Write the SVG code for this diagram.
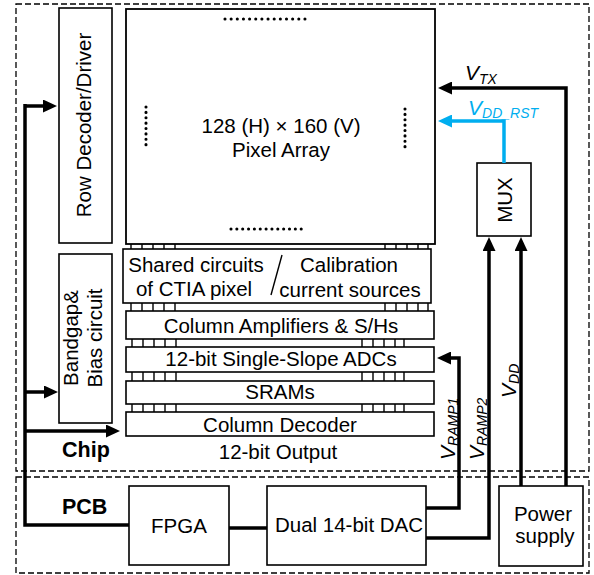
<svg xmlns="http://www.w3.org/2000/svg" width="594" height="575" viewBox="0 0 594 575">
<style>
.bx{fill:#fff;stroke:#000;stroke-width:1.6}
.ds{fill:none;stroke:#000;stroke-width:1.3;stroke-dasharray:6 3}
.t{font-family:"Liberation Sans",Arial,sans-serif;font-size:20.5px;fill:#000}
.c{text-anchor:middle}
.b{font-weight:bold;font-size:21.5px}
.vl{font-family:"Liberation Sans",Arial,sans-serif;font-size:21px;font-style:italic;fill:#000}
.w{fill:none;stroke:#000;stroke-width:3.5}
.wb{fill:none;stroke:#00AEEF;stroke-width:3.5}
.tk{fill:none;stroke:#000;stroke-width:1.4}
.dot{fill:none;stroke:#000;stroke-width:3.1;stroke-linecap:round}
</style>
<defs>
<marker id="ah" markerUnits="userSpaceOnUse" markerWidth="14" markerHeight="13" viewBox="0 0 14 13" refX="4" refY="6.5" orient="auto"><path d="M0,0 L14,6.5 L0,13 z" fill="#000"/></marker>
<marker id="ahb" markerUnits="userSpaceOnUse" markerWidth="14" markerHeight="13" viewBox="0 0 14 13" refX="4" refY="6.5" orient="auto"><path d="M0,0 L14,6.5 L0,13 z" fill="#00AEEF"/></marker>
</defs>
<rect width="594" height="575" fill="#fff"/>
<g id="chip-boundary"><rect class="ds" x="16" y="4" width="573" height="467"/></g>
<g id="pcb-boundary"><rect class="ds" x="16" y="477" width="573" height="96"/></g>

<g id="row-decoder"><rect class="bx" x="59" y="8" width="53" height="235"/>
<text class="t c" transform="translate(91,125) rotate(-90)">Row Decoder/Driver</text></g>

<g id="pixel-array"><rect class="bx" x="126" y="9" width="309" height="235" style="stroke-width:1.8"/>
<line class="dot" x1="225" y1="19" x2="305" y2="19" stroke-dasharray="0 6.15"/>
<line class="dot" x1="231" y1="229" x2="307" y2="229" stroke-dasharray="0 5.85"/>
<line class="dot" x1="146" y1="107" x2="146" y2="150" stroke-dasharray="0 5.375"/>
<line class="dot" x1="405" y1="109" x2="405" y2="152" stroke-dasharray="0 5.375"/>
<text class="t c" x="281" y="133">128 (H) × 160 (V)</text>
<text class="t c" x="281" y="157">Pixel Array</text></g>

<g id="bandgap"><rect class="bx" x="59" y="254" width="53" height="169"/>
<text class="t c" transform="translate(78,338) rotate(-90)">Bandgap&amp;</text>
<text class="t c" transform="translate(102,338) rotate(-90)">Bias circuit</text></g>

<g id="shared-circuits"><rect class="bx" x="123" y="249" width="308" height="54"/>
<line x1="282" y1="255" x2="271" y2="295" stroke="#000" stroke-width="1.4"/>
<text class="t c" x="196" y="272">Shared circuits</text>
<text class="t c" x="194" y="296">of CTIA pixel</text>
<text class="t c" x="349" y="272">Calibration</text>
<text class="t c" x="350" y="297">current sources</text></g>

<g id="column-amplifiers"><rect class="bx" x="126" y="311" width="308" height="28"/>
<text class="t c" x="281" y="333">Column Amplifiers &amp; S/Hs</text></g>

<g id="adcs"><rect class="bx" x="126" y="347" width="308" height="25"/>
<text class="t c" x="281" y="366">12-bit Single-Slope ADCs</text></g>

<g id="srams"><rect class="bx" x="126" y="381" width="308" height="23"/>
<text class="t c" x="280" y="399">SRAMs</text></g>

<g id="column-decoder"><rect class="bx" x="126" y="412" width="308" height="24"/>
<text class="t c" x="280" y="432">Column Decoder</text></g>

<g id="combs">
<path class="tk" d="M131,244V249M142,244V249M153,244V249M164,244V249M175,244V249M385,244V249M396,244V249M407,244V249M418,244V249M428,244V249"/>
<path class="tk" d="M131,303V311M142,303V311M153,303V311M164,303V311M175,303V311M385,303V311M396,303V311M407,303V311M418,303V311M428,303V311"/>
<path class="tk" d="M132,339V347M143,339V347M154,339V347M165,339V347M176,339V347M362,339V347M373,339V347M384,339V347M395,339V347M404,339V347"/>
<path class="tk" d="M132,372V381M143,372V381M154,372V381M165,372V381M176,372V381M362,372V381M373,372V381M384,372V381M395,372V381M404,372V381"/>
<path class="tk" d="M132,404V412M143,404V412M154,404V412M165,404V412M176,404V412M362,404V412M373,404V412M384,404V412M395,404V412M404,404V412"/>
</g>

<g id="mux"><rect class="bx" x="477" y="163" width="54" height="73"/>
<text class="t c" transform="translate(512,200) rotate(-90)">MUX</text></g>

<g id="fpga"><rect class="bx" x="129" y="486" width="100" height="79"/>
<text class="t c" x="179" y="533">FPGA</text></g>

<g id="dac"><rect class="bx" x="267" y="486" width="159" height="79"/>
<text class="t c" x="349" y="532">Dual 14-bit DAC</text></g>

<g id="power-supply"><rect class="bx" x="499" y="486" width="84" height="80"/>
<text class="t c" x="543" y="521">Power</text>
<text class="t c" x="545" y="543">supply</text></g>

<g id="connectors">
<path class="w" d="M25,104V525H129"/>
<path class="w" d="M25,106H47" marker-end="url(#ah)"/>
<path class="w" d="M25,392H48" marker-end="url(#ah)"/>
<path class="w" d="M25,431H110" marker-end="url(#ah)"/>
<path class="w" d="M229,528H267"/>
<path class="w" d="M426,508H459V358H447" marker-end="url(#ah)"/>
<path class="w" d="M426,538H489V247" marker-end="url(#ah)"/>
<path class="w" d="M521,486V247" marker-end="url(#ah)"/>
<path class="w" d="M566,486V88H448" marker-end="url(#ah)"/>
<path class="wb" d="M504,163V121H448" marker-end="url(#ahb)"/>
</g>

<g id="labels">
<text class="t b" x="62" y="457">Chip</text>
<text class="t b" x="62" y="514">PCB</text>
<text class="t c" x="278" y="459">12-bit Output</text>
<text class="vl" x="465" y="80">V<tspan dy="4" font-size="14">TX</tspan></text>
<text class="vl" x="468" y="115" style="fill:#00AEEF">V<tspan dy="3" font-size="14">DD_RST</tspan></text>
<text class="vl" transform="translate(455,460) rotate(-90)">V<tspan dy="3" font-size="14">RAMP1</tspan></text>
<text class="vl" transform="translate(484,460) rotate(-90)">V<tspan dy="3" font-size="14">RAMP2</tspan></text>
<text class="vl" transform="translate(516,398) rotate(-90)">V<tspan dy="3" font-size="14">DD</tspan></text>
</g>
</svg>
